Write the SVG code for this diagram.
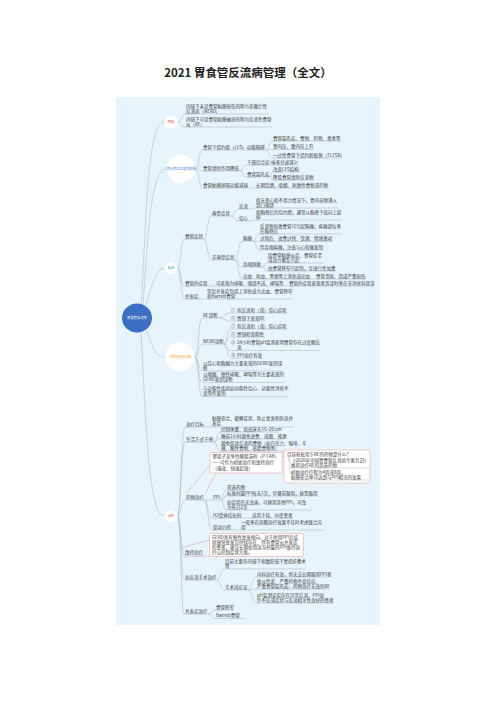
<svg xmlns="http://www.w3.org/2000/svg" width="496" height="702" viewBox="0 0 496 702">
<style>
.t{font-family:"Noto Sans CJK SC","Noto Sans",sans-serif;font-size:4.5px;fill:#3a3a3a}
.u{stroke:#9aabba;stroke-width:0.45;fill:none}
.c{stroke:#9aabba;stroke-width:0.45;fill:none}
.bc{fill:#fff;stroke:#dfe8f0;stroke-width:0.4}
.bt{font-family:"Noto Sans CJK SC","Noto Sans",sans-serif;font-size:3.3px;text-anchor:middle}
.num{fill:none;stroke:#777;stroke-width:0.3}
.nt{font-family:"Noto Sans",sans-serif;font-size:2.8px;text-anchor:middle;fill:#555}
.box{fill:#fff;stroke:#e79494;stroke-width:0.5}
.rl{stroke:#e79494;stroke-width:0.5;fill:none}
</style>
<rect x="0" y="0" width="496" height="702" fill="#fff"/>
<text x="248" y="77" text-anchor="middle" font-family="Noto Sans CJK SC, Noto Sans, sans-serif" font-size="11.5" font-weight="bold" fill="#222">2021 胃食管反流病管理（全文）</text>
<rect x="116" y="97" width="264" height="528" fill="#e8f4fb"/>

<g id="connectors">
<path class="c" d="M141 304.5 C146 240 146 122 164 122"/>
<path class="c" d="M143 304 C148 240 150 169 166.5 169"/>
<path class="c" d="M146 305 C152 285 156 268 164.5 268"/>
<path class="c" d="M147 331 C153 348 155 357 165 357"/>
<path class="c" d="M141 332 C146 420 148 516 164.5 516"/>
<path class="c" d="M178 122 C181.5 122 181.5 114 185 114"/>
<path class="c" d="M178 122 C181.5 122 181.5 127 185 127"/>
<path class="c" d="M195.5 169 C199 169 199 150 202 150"/>
<path class="c" d="M195.5 169 C199 169 199 171 202 171"/>
<path class="c" d="M195.5 169 C199 169 199 188 202 188"/>
<path class="c" d="M266 150 C269 150 269 141 272 141"/>
<path class="c" d="M266 150 C269 150 269 149.5 272 149.5"/>
<path class="c" d="M266 150 C269 150 269 158 272 158"/>
<path class="c" d="M240 171 C243 171 243 165 246 165"/>
<path class="c" d="M240 171 C243 171 243 177 246 177"/>
<path class="c" d="M270 177 C271.5 177 271 172 272.5 172"/>
<path class="c" d="M270 177 C271.5 177 271 180 272.5 180"/>
<path class="c" d="M249 188 H255"/>
<path class="c" d="M177.5 268 C181 268 181 239 184 239"/>
<path class="c" d="M177.5 268 C181 268 181 286 184 286"/>
<path class="c" d="M177.5 268 C181 268 181 299 184 299"/>
<path class="c" d="M204 239 C207.5 239 207.5 216 211 216"/>
<path class="c" d="M204 239 C207.5 239 207.5 260 211 260"/>
<path class="c" d="M231 216 C234.5 216 234.5 209 238 209"/>
<path class="c" d="M231 216 C234.5 216 234.5 221 238 221"/>
<path class="c" d="M249 209 C252 209 252 208 255 208"/>
<path class="c" d="M249 221 C252 221 252 220 255 220"/>
<path class="c" d="M235 260 C238.5 260 238.5 241 242 241"/>
<path class="c" d="M235 260 C238.5 260 238.5 267 242 267"/>
<path class="c" d="M235 260 C238.5 260 238.5 279 242 279"/>
<path class="c" d="M253 241 C256 241 256 234 259 234"/>
<path class="c" d="M253 241 C256 241 256 241.5 259 241.5"/>
<path class="c" d="M253 241 C256 241 256 250 259 250"/>
<path class="c" d="M262 267 C264.5 267 264.5 263 267 263"/>
<path class="c" d="M262 267 C264.5 267 264.5 271 267 271"/>
<path class="c" d="M253 279 H255"/>
<path class="c" d="M311 279 H315"/>
<path class="c" d="M208 286 H215"/>
<path class="c" d="M284 286 H288"/>
<path class="c" d="M199 299 H206"/>
<path class="c" d="M195 357 C198.5 357 198.5 318 202 318"/>
<path class="c" d="M195 357 C198.5 357 198.5 344 202 344"/>
<path class="c" d="M195 357 C198.5 357 198.5 371 202 371"/>
<path class="c" d="M195 357 C198.5 357 198.5 382.5 202 382.5"/>
<path class="c" d="M195 357 C198.5 357 198.5 396.5 202 396.5"/>
<path class="c" d="M219 318 C224.5 318 224.5 313 230 313"/>
<path class="c" d="M219 318 C224.5 318 224.5 321 230 321"/>
<path class="c" d="M224 344 C227 344 227 329 230 329"/>
<path class="c" d="M224 344 C227 344 227 337 230 337"/>
<path class="c" d="M224 344 C227 344 227 350.5 230 350.5"/>
<path class="c" d="M224 344 C227 344 227 358 230 358"/>
<path class="c" d="M177.5 516 C181 516 181 427 185 427"/>
<path class="c" d="M177.5 516 C181 516 181 442 185 442"/>
<path class="c" d="M177.5 516 C181 516 181 500 185 500"/>
<path class="c" d="M177.5 516 C181 516 181 555 184 555"/>
<path class="c" d="M177.5 516 C181 516 181 580 184 580"/>
<path class="c" d="M177.5 516 C181 516 181 614 184 614"/>
<path class="c" d="M205 427 H211"/>
<path class="c" d="M214 442 C217 442 217 432 220 432"/>
<path class="c" d="M214 442 C217 442 217 439 220 439"/>
<path class="c" d="M214 442 C217 442 217 451 220 451"/>
<path class="c" d="M204 500 H212"/>
<path class="c" d="M204 500 C208 500 208 518 212 518"/>
<path class="c" d="M204 500 C208 500 208 530 212 530"/>
<path class="c" d="M221 500 C223.5 500 223.5 490 226 490"/>
<path class="c" d="M221 500 C223.5 500 223.5 496 226 496"/>
<path class="c" d="M221 500 C223.5 500 223.5 510 226 510"/>
<path class="c" d="M241 518 H251"/>
<path class="c" d="M231 530 H240"/>
<path class="c" d="M217 580 C220.5 580 220.5 569 224 569"/>
<path class="c" d="M217 580 C220.5 580 220.5 590 224 590"/>
<path class="c" d="M248 590 C252 590 252 577 256 577"/>
<path class="c" d="M248 590 C252 590 252 589 256 589"/>
<path class="c" d="M248 590 C252 590 252 603 256 603"/>
<path class="c" d="M208 614 C211.5 614 211.5 610 215 610"/>
<path class="c" d="M208 614 C211.5 614 211.5 618.5 215 618.5"/>
<path class="rl" d="M282 457 H284"/>
<path class="rl" d="M210 465 L186 493.5"/>
<path class="rl" d="M216 473 L205 494"/>
<path class="rl" d="M209.5 540 L181 548"/>
<path class="rl" d="M209.5 556 L184 557"/>
</g>

<g id="root"><ellipse cx="137" cy="318" rx="15" ry="14.5" fill="#3d6fc4"/><text class="bt" x="137" y="319.3" fill="#fff">胃食管反流病</text></g>

<g id="b-bingyin"><circle class="bc" cx="171" cy="122" r="7"/><text class="bt" x="171" y="123.2" fill="#e05252">病因</text></g>
<g id="n1"><text class="t" x="186" y="107.6">内镜下未见食管黏膜损伤的称为非糜烂性</text><text class="t" x="186" y="112.6">反流病（NERD）</text><path class="u" d="M185 114 H268"/></g>
<g id="n2"><text class="t" x="186" y="120.6">内镜下可见食管黏膜破损的称为反流性食管</text><text class="t" x="186" y="125.6">炎（RE）</text><path class="u" d="M185 127 H272"/></g>

<g id="b-liuxing"><circle class="bc" cx="181" cy="169" r="14.5"/><text class="bt" x="181" y="170.2" fill="#3d7fd0" font-size="3">流行病学及发病机制</text></g>
<g id="a1"><text class="t" x="203" y="148.6">食管下括约肌（LES）功能障碍</text><path class="u" d="M202 150 H266"/></g>
<g id="a1c1"><text class="t" x="273" y="139.6">食管裂孔疝、食物、药物、激素等</text><path class="u" d="M272 141 H341"/></g>
<g id="a1c2"><text class="t" x="273" y="148.1">胃内压、腹内压上升</text><path class="u" d="M272 149.5 H314"/></g>
<g id="a1c3"><text class="t" x="273" y="156.6">一过性食管下括约肌松弛（TLESR）</text><path class="u" d="M272 158 H340"/></g>
<g id="a2"><text class="t" x="203" y="169.6">食管清除作用降低</text><path class="u" d="M202 171 H240"/></g>
<g id="a2c1"><text class="t" x="247" y="163.6">干燥综合征-唾液分泌减少</text><path class="u" d="M246 165 H299"/></g>
<g id="a2c2"><text class="t" x="247" y="175.6">食管裂孔疝</text><path class="u" d="M246 177 H270"/></g>
<g id="a2c2a"><text class="t" x="273" y="170.6">改变LES结构</text><path class="u" d="M272.5 172 H300"/></g>
<g id="a2c2b"><text class="t" x="273" y="178.6">降低食管清除反流物</text><path class="u" d="M272.5 180 H314"/></g>
<g id="a3"><text class="t" x="203" y="186.6">食管黏膜屏障功能减弱</text><path class="u" d="M202 188 H249"/></g>
<g id="a3c1"><text class="t" x="256" y="186.6">长期饮酒、吸烟、刺激性食物或药物</text><path class="u" d="M255 188 H329"/></g>

<g id="b-linchuang"><circle class="bc" cx="171" cy="268" r="6.5"/><text class="bt" x="171" y="269.2" fill="#21b3a8">临床</text></g>
<g id="b1"><text class="t" x="185" y="237.6">食管症状</text><path class="u" d="M184 239 H204"/></g>
<g id="b1a"><text class="t" x="212" y="214.6">典型症状</text><path class="u" d="M211 216 H231"/></g>
<g id="b1a1"><text class="t" x="239" y="207.6">反流</text><path class="u" d="M238 209 H249"/></g>
<g id="b1a1c"><text class="t" x="256" y="201.6">指无恶心和不用力情况下，胃内容物涌入</text><text class="t" x="256" y="206.6">到口咽部</text><path class="u" d="M255 208 H338"/></g>
<g id="b1a2"><text class="t" x="239" y="219.6">烧心</text><path class="u" d="M238 221 H249"/></g>
<g id="b1a2c"><text class="t" x="256" y="213.6">指胸骨后的烧灼感，通常从胸骨下段向上延</text><text class="t" x="256" y="218.6">伸</text><path class="u" d="M255 220 H342"/></g>
<g id="b1b"><text class="t" x="212" y="258.6">非典型症状</text><path class="u" d="M211 260 H235"/></g>
<g id="b1b1"><text class="t" x="243" y="239.6">胸痛</text><path class="u" d="M242 241 H253"/></g>
<g id="b1b1c1"><text class="t" x="260" y="227.6">反流物刺激食管可引起胸痛，疼痛部位多</text><text class="t" x="260" y="232.6">在胸骨后</text><path class="u" d="M259 234 H342"/></g>
<g id="b1b1c2"><text class="t" x="260" y="240.1">过饱后、进食过快、饮酒、情绪激动</text><path class="u" d="M259 241.5 H333"/></g>
<g id="b1b1c3"><text class="t" x="260" y="248.6">伴吞咽疼痛，注意与心绞痛鉴别</text><path class="u" d="M259 250 H324"/></g>
<g id="b1b2"><text class="t" x="243" y="265.6">吞咽困难</text><path class="u" d="M242 267 H262"/></g>
<g id="b1b2c1"><text class="t" x="268" y="256.6">因食管黏膜炎症、食管痉挛</text><text class="t" x="268" y="261.6">或动力紊乱引起</text><path class="u" d="M267 263 H323"/></g>
<g id="b1b2c2"><text class="t" x="268" y="269.6">由食管狭窄引起的，呈进行性加重</text><path class="u" d="M267 271 H336"/></g>
<g id="b1b3"><text class="t" x="243" y="277.6">出血</text><path class="u" d="M242 279 H253"/></g>
<g id="b1b3c"><text class="t" x="256" y="277.6">呕血、黑便等上消化道出血</text><path class="u" d="M255 279 H311"/></g>
<g id="b1b3cc"><text class="t" x="316" y="277.6">食管溃疡、造成严重损伤</text><path class="u" d="M315 279 H366"/></g>
<g id="b2"><text class="t" x="185" y="284.6">食管外症状</text><path class="u" d="M184 286 H208"/></g>
<g id="b2c"><text class="t" x="216" y="284.6">可表现为咳嗽、咽部不适、哮喘等</text><path class="u" d="M215 286 H284"/></g>
<g id="b2cc"><text class="t" x="289" y="284.6">食管外症状表现者首诊时多在非消化科就诊</text><path class="u" d="M288 286 H375"/></g>
<g id="b3"><text class="t" x="185" y="297.6">并发症</text><path class="u" d="M184 299 H199"/></g>
<g id="b3c"><text class="t" x="207" y="292.6">常见并发症包括上消化道大出血、食管狭窄</text><text class="t" x="207" y="297.6">和Barrett食管</text><path class="u" d="M206 299 H293"/></g>

<g id="b-zhenduan"><circle class="bc" cx="180" cy="357" r="15"/><text class="bt" x="180" y="358.2" fill="#f0b020">诊断和鉴别诊断</text></g>
<g id="d1"><text class="t" x="203" y="316.6">RE诊断</text><path class="u" d="M202 318 H219"/></g>
<g id="d1c1"><circle class="num" cx="233" cy="310" r="2"/><text class="nt" x="233" y="311">1</text><text class="t" x="237" y="311.6">有反流和（或）烧心症状</text><path class="u" d="M230 313 H287"/></g>
<g id="d1c2"><circle class="num" cx="233" cy="318" r="2"/><text class="nt" x="233" y="319">2</text><text class="t" x="237" y="319.6">胃镜下发现RE</text><path class="u" d="M230 321 H266"/></g>
<g id="d2"><text class="t" x="203" y="342.6">NERD诊断</text><path class="u" d="M202 344 H224"/></g>
<g id="d2c1"><circle class="num" cx="233" cy="326" r="2"/><text class="nt" x="233" y="327">1</text><text class="t" x="237" y="327.6">有反流和（或）烧心症状</text><path class="u" d="M230 329 H287"/></g>
<g id="d2c2"><circle class="num" cx="233" cy="334" r="2"/><text class="nt" x="233" y="335">2</text><text class="t" x="237" y="335.6">胃镜检查阴性</text><path class="u" d="M230 337 H265"/></g>
<g id="d2c3"><circle class="num" cx="233" cy="342.5" r="2"/><text class="nt" x="233" y="343.5">3</text><text class="t" x="237" y="344.1">24小时食管pH监测表明食管存在过度酸反</text><text class="t" x="237" y="349.1">流</text><path class="u" d="M230 350.5 H320"/></g>
<g id="d2c4"><circle class="num" cx="233" cy="355" r="2"/><text class="nt" x="233" y="356">4</text><text class="t" x="237" y="356.6">PPI治疗有效</text><path class="u" d="M230 358 H263"/></g>
<g id="d3"><text class="t" x="203" y="364.6">以烧心和胸痛为主要表现的GERD鉴别诊</text><text class="t" x="203" y="369.6">断</text><path class="u" d="M202 371 H283"/></g>
<g id="d4"><text class="t" x="203" y="376.1">以咽痛、慢性咳嗽、哮喘等为主要表现的</text><text class="t" x="203" y="381.1">GERD鉴别诊断</text><path class="u" d="M202 382.5 H285"/></g>
<g id="d5"><text class="t" x="203" y="390.1">与功能性疾病如功能性烧心、功能性消化不</text><text class="t" x="203" y="395.1">良等作鉴别</text><path class="u" d="M202 396.5 H289"/></g>

<g id="b-zhiliao"><circle class="bc" cx="171" cy="516" r="6.5"/><text class="bt" x="171" y="517.2" fill="#e05252">治疗</text></g>
<g id="e1"><text class="t" x="186" y="425.6">治疗目标</text><path class="u" d="M185 427 H205"/></g>
<g id="e1c"><text class="t" x="212" y="419.6">黏膜愈合、缓解症状、防止复发和防治并</text><text class="t" x="212" y="424.6">发症</text><path class="u" d="M211 427 H294"/></g>
<g id="e2"><text class="t" x="186" y="440.6">生活方式干预</text><path class="u" d="M185 442 H214"/></g>
<g id="e2c1"><text class="t" x="221" y="430.6">控制体重、抬高床头15~20 cm</text><path class="u" d="M220 432 H279"/></g>
<g id="e2c2"><text class="t" x="221" y="437.6">睡前2小时避免进食、戒烟、戒酒</text><path class="u" d="M220 439 H282"/></g>
<g id="e2c3"><text class="t" x="221" y="444.6">避免促进反流的食物（如巧克力、咖啡、辛</text><text class="t" x="221" y="449.6">辣、酸性食物、高脂食物等）</text><path class="u" d="M220 451 H307"/></g>
<g id="pcab"><rect class="box" x="210" y="452.5" width="72" height="20.5" rx="1"/><text class="t" x="212.5" y="458">钾离子竞争性酸阻滞剂（P-CAB）</text><text class="t" x="212.5" y="464">——可作为初始治疗和维持治疗</text><text class="t" x="212.5" y="470">（强效、快速起效）</text></g>
<g id="pcab-note"><rect class="box" x="284" y="450" width="86" height="33" rx="1"/><text class="t" x="287" y="455.5" fill="#e05050">目前获批用于RE的药物是什么？</text><path class="c" d="M288 457 C289.5 457 289.5 463 291 463 M288 457 C289.5 457 289.5 475 291 475"/><text class="t" x="291" y="461.5">《2020年中国胃食管反流病专家共识》</text><text class="t" x="291" y="466.5">推荐治疗RE的首选药物</text><path class="u" d="M290 468 H369"/><text class="t" x="291" y="473.5">初始治疗疗程为4周或8周，</text><text class="t" x="291" y="478.5">黏膜愈合率可达到与PPI相当的效果</text><path class="u" d="M290 480 H369"/></g>
<g id="e4"><text class="t" x="186" y="498.6">药物治疗</text><path class="u" d="M185 500 H204"/></g>
<g id="ppi"><text class="t" x="213" y="498.6">PPI</text><path class="u" d="M212 500 H221"/></g>
<g id="ppi1"><text class="t" x="227" y="488.6">首选药物</text><path class="u" d="M226 490 H245"/></g>
<g id="ppi2"><text class="t" x="227" y="494.6">标准剂量PPI每天1次，早餐前服用，按需服用</text><path class="u" d="M226 496 H319"/></g>
<g id="ppi3"><text class="t" x="227" y="503.6">如症状仍无改善，可换用其他PPI，可改</text><text class="t" x="227" y="508.6">为每日2次</text><path class="u" d="M226 510 H312"/></g>
<g id="h2"><text class="t" x="213" y="516.6">H2受体拮抗剂</text><path class="u" d="M212 518 H241"/></g>
<g id="h2c"><text class="t" x="252" y="516.6">适用于轻、中度患者</text><path class="u" d="M251 518 H293"/></g>
<g id="prok"><text class="t" x="213" y="528.6">促动力药</text><path class="u" d="M212 530 H231"/></g>
<g id="prokc"><text class="t" x="241" y="523.6">一般多在抑酸治疗效果不佳时考虑联合应</text><text class="t" x="241" y="528.6">用</text><path class="u" d="M240 530 H323"/></g>
<g id="e5"><text class="t" x="185" y="553.6">维持治疗</text><path class="u" d="M184 555 H203"/></g>
<g id="maint"><rect class="box" x="209.5" y="533.5" width="94" height="23" rx="1"/><text class="t" x="212" y="538.6">GERD具有慢性复发倾向，对于停用PPI后症</text><text class="t" x="212" y="543.6">状很快复发且持续存在、伴有食管炎并发症</text><text class="t" x="212" y="548.6">的患者，建议长期使用适当剂量的PPI维持治</text><text class="t" x="212" y="553.6">疗以控制症状为准。</text></g>
<g id="e6"><text class="t" x="185" y="578.6">抗反流手术治疗</text><path class="u" d="M184 580 H217"/></g>
<g id="e6c1"><text class="t" x="225" y="562.6">目前主要有内镜下和腹腔镜下胃底折叠术</text><text class="t" x="225" y="567.6">等</text><path class="u" d="M224 569 H306"/></g>
<g id="e6c2"><text class="t" x="225" y="588.6">手术适应证</text><path class="u" d="M224 590 H248"/></g>
<g id="e6c2a"><text class="t" x="257" y="575.6">内科治疗有效，但无法长期服用PPI者</text><path class="u" d="M256 577 H328"/></g>
<g id="e6c2b"><text class="t" x="257" y="582.6">依从性差、严重药物不良反应、</text><text class="t" x="257" y="587.6">严重食管裂孔疝、药物治疗无效的RE</text><path class="u" d="M256 589 H330"/></g>
<g id="e6c2c"><text class="t" x="257" y="596.6">pH监测证实存在异常反流，PPI治</text><text class="t" x="257" y="601.6">疗不佳或症状与反流相关性良好的患者</text><path class="u" d="M256 603 H334"/></g>
<g id="e7"><text class="t" x="185" y="612.6">并发症治疗</text><path class="u" d="M184 614 H208"/></g>
<g id="e7c1"><text class="t" x="216" y="608.6">食管狭窄</text><path class="u" d="M215 610 H234"/></g>
<g id="e7c2"><text class="t" x="216" y="617.1">Barrett食管</text><path class="u" d="M215 618.5 H245"/></g>
</svg>
